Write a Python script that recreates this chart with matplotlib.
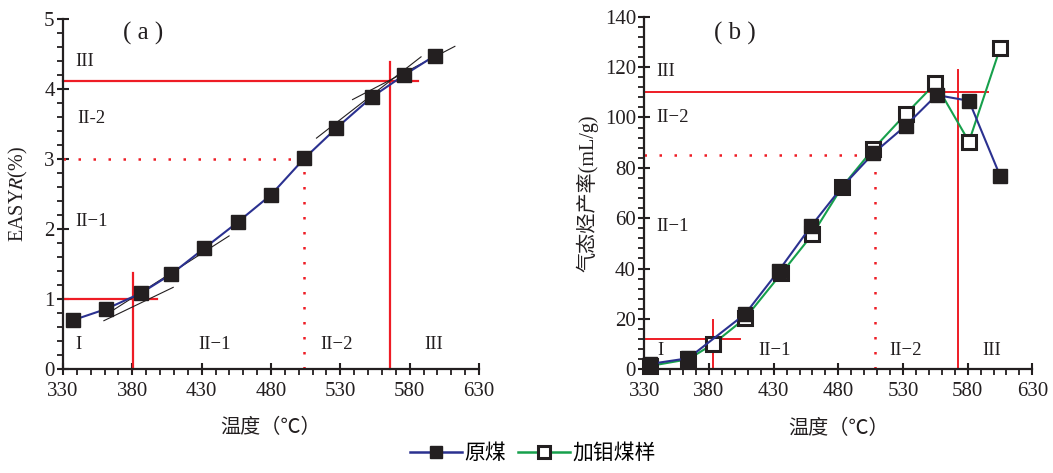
import matplotlib
matplotlib.use("Agg")
import matplotlib.pyplot as plt
from matplotlib.ticker import MultipleLocator
from matplotlib.lines import Line2D

plt.rcParams['font.family'] = ['Liberation Serif', 'Noto Sans CJK SC', 'DejaVu Sans']
plt.rcParams['mathtext.fontset'] = 'stix'

# ---------------- data ----------------
# panel (a): EASY%Ro vs temperature
temp_a = [337, 361, 386, 408, 432, 456, 480, 504, 527, 553, 576, 598]
easyr = [0.70, 0.86, 1.085, 1.357, 1.73, 2.10, 2.49, 3.01, 3.44, 3.89, 4.20, 4.475]

# panel (b): gas yield vs temperature
temp_raw = [334, 364, 408, 434, 459, 483, 507, 532, 556, 581, 605]
gas_raw = [2.1, 4.4, 22.0, 39.2, 56.9, 72.5, 85.7, 96.7, 108.9, 106.6, 76.9]
temp_mo = [334, 364, 383, 408, 436, 460, 483, 507, 532, 555, 581, 605]
gas_mo = [1.3, 4.0, 10.0, 20.3, 38.1, 53.6, 72.5, 87.5, 101.3, 113.5, 90.4, 127.4]

xticks = [330, 380, 430, 480, 530, 580, 630]
series_names = ['原煤', '加钼煤样']

# reference / tangent lines (a): (x0, x1, y0, y1)
red_solid_a = [(330, 398, 1.0, 1.0), (380.3, 380.3, 0, 1.37),
               (330, 586, 4.12, 4.12), (566, 566, 0, 4.39)]
red_dot_a = [(330, 504, 3.0, 3.0), (504, 504, 0, 3.0)]
tangent_a = [(359.5, 409.5, 0.694, 1.17), (359.5, 449.8, 0.76, 1.904),
             (512.8, 588.2, 3.30, 4.46), (538.8, 612.6, 3.85, 4.61)]
red_solid_b = [(330, 404, 12.1, 12.1), (383, 383, 0, 19.6),
               (330, 595.6, 110, 110), (572.4, 572.4, 0, 118.8)]
red_dot_b = [(330, 507, 85, 85), (508.4, 508.4, 0, 85)]

labels_a = [("III", 346, 4.39), ("II-2", 350.6, 3.58), ("II−1", 350.4, 2.11),
            ("I", 341.3, 0.35), ("II−1", 439, 0.35), ("II−2", 527, 0.35), ("III", 597, 0.35)]
labels_b = [("III", 346.8, 118.1), ("II−2", 351.8, 100), ("II−1", 351.8, 56.9),
            ("I", 342.7, 7.4), ("II−1", 431, 7.4), ("II−2", 531.6, 7.4), ("III", 598.7, 7.4)]

BLUE = '#2b3190'
GREEN = '#17a04c'
RED = '#ee1c25'
INK = '#231f20'

fig = plt.figure(figsize=(10.53, 4.73), dpi=100)
ax_a = fig.add_axes([0.0598, 0.2192, 0.3951, 0.7406])
ax_b = fig.add_axes([0.6119, 0.2192, 0.3685, 0.7455])


def style_axis(ax, ymax, ymajor, yminor):
    ax.set_xlim(330, 630)
    ax.set_ylim(0, ymax)
    ax.set_xticks(xticks)
    ax.xaxis.set_minor_locator(MultipleLocator(10))
    ax.yaxis.set_major_locator(MultipleLocator(ymajor))
    ax.yaxis.set_minor_locator(MultipleLocator(yminor))
    for s in ['top', 'right']:
        ax.spines[s].set_visible(False)
    for s in ['left', 'bottom']:
        ax.spines[s].set_linewidth(1.6)
        ax.spines[s].set_color(INK)
    ax.tick_params(which='major', direction='inout', length=8, width=1.5,
                   labelsize=15, colors=INK)
    ax.tick_params(axis='x', which='major', pad=5)
    ax.tick_params(axis='y', which='major', pad=2)
    ax.tick_params(which='minor', direction='out', length=4, width=1.3, colors=INK)


style_axis(ax_a, 5, 1, 0.2)
style_axis(ax_b, 140, 20, 4)

# panel (a)
for x0, x1, y0, y1 in red_solid_a:
    ax_a.plot([x0, x1], [y0, y1], color=RED, lw=1.6, zorder=2, clip_on=False)
for x0, x1, y0, y1 in red_dot_a:
    ax_a.plot([x0, x1], [y0, y1], color=RED, lw=1.8, ls=(0, (1, 5)), zorder=2)
for x0, x1, y0, y1 in tangent_a:
    ax_a.plot([x0, x1], [y0, y1], color=INK, lw=0.8, zorder=3)
ax_a.plot(temp_a, easyr, color=BLUE, lw=1.5, marker='s', ms=9.5,
          mfc=INK, mec=INK, zorder=4, clip_on=False)
for t, x, y in labels_a:
    ax_a.text(x, y, t, ha='center', va='center', fontsize=13.5, color=INK)
ax_a.text(388, 4.8, '( a )', ha='center', va='center', fontsize=18, color=INK)
ax_a.set_xlabel('温度（℃）', fontsize=14.5, color=INK)
ax_a.xaxis.set_label_coords(0.5, -0.142)
ax_a.set_ylabel('EASY$\\mathit{R}$(%)', fontsize=14.5, color=INK)
ax_a.yaxis.set_label_coords(-0.079, 0.5)

# panel (b)
for x0, x1, y0, y1 in red_solid_b:
    ax_b.plot([x0, x1], [y0, y1], color=RED, lw=1.4, zorder=2)
for x0, x1, y0, y1 in red_dot_b:
    ax_b.plot([x0, x1], [y0, y1], color=RED, lw=1.8, ls=(0, (1, 5)), zorder=2)
ax_b.plot(temp_mo, gas_mo, color=GREEN, lw=1.5, marker='s', ms=9.5,
          mfc='white', mec=INK, mew=2.2, zorder=3, clip_on=False)
ax_b.plot(temp_raw, gas_raw, color=BLUE, lw=1.5, marker='s', ms=9.5,
          mfc=INK, mec=INK, zorder=4, clip_on=False)
for t, x, y in labels_b:
    ax_b.text(x, y, t, ha='center', va='center', fontsize=13.5, color=INK)
ax_b.text(400, 133.5, '( b )', ha='center', va='center', fontsize=18, color=INK)
ax_b.set_xlabel('温度（℃）', fontsize=14.5, color=INK)
ax_b.xaxis.set_label_coords(0.5, -0.142)
ax_b.set_ylabel('气态烃产率(mL/g)', fontsize=14.5, color=INK)
ax_b.yaxis.set_label_coords(-0.119, 0.5)

handles = [Line2D([], [], color=BLUE, lw=1.8, marker='s', ms=9, mfc=INK, mec=INK),
           Line2D([], [], color=GREEN, lw=1.8, marker='s', ms=9, mfc='white', mec=INK, mew=2.2)]
fig.legend(handles, series_names, loc='center', bbox_to_anchor=(533 / 1053, 19 / 473),
           ncol=2, frameon=False, fontsize=15, handlelength=2.5, handletextpad=0.1,
           columnspacing=0.6, borderpad=0)

fig.savefig('out.png', dpi=100)
